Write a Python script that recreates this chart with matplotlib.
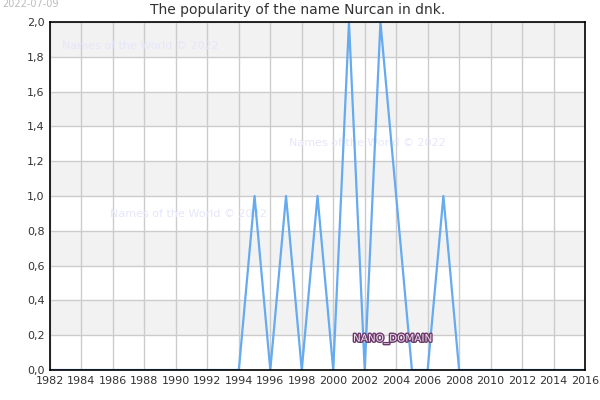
import matplotlib
matplotlib.use("Agg")
import matplotlib.pyplot as plt
import matplotlib.patheffects as pe

years = list(range(1982, 2017))
values = ([0]*12 +                                        # 1982-1993
          [0, 1, 0, 1, 0, 1, 0, 2, 0, 2, 1, 0, 0, 1, 0] +  # 1994-2008
          [0]*8)                                          # 2009-2016
xticks = list(range(1982, 2017, 2))
yticks = [0.0, 0.2, 0.4, 0.6, 0.8, 1.0, 1.2, 1.4, 1.6, 1.8, 2.0]
title = "The popularity of the name Nurcan in dnk."

fig = plt.figure(figsize=(6, 4), dpi=100)
ax = fig.add_axes([50/600, 30/400, 535/600, 348/400])

for i in range(len(yticks) - 1):
    if i % 2 == 1:
        ax.axhspan(yticks[i], yticks[i+1], color='#f2f2f2', zorder=0, lw=0)

ax.plot(years, values, color='#66aaf0', lw=1.6, zorder=3)

ax.set_xlim(1982, 2016)
ax.set_ylim(0, 2.0)
ax.set_xticks(xticks)
ax.set_yticks(yticks)
ax.set_yticklabels([f"{v:.1f}".replace('.', ',') for v in yticks])
ax.grid(True, color='#cccccc', lw=1, zorder=1)
ax.set_axisbelow(True)
ax.tick_params(length=0, labelsize=8, colors='#333333', pad=4)
for s in ax.spines.values():
    s.set_color('black')
    s.set_linewidth(1.2)
    s.set_zorder(4)

fig.text(298/600, 1 - 10/400, title, ha='center', va='center', fontsize=10, color='#333333')
fig.text(2/600, 1 - 4/400, "2022-07-09", ha='left', va='center', fontsize=7, color='#bbbbbb')

wm = dict(fontsize=8, color='#e6e6fa', ha='left', va='center', zorder=2,
          transform=fig.transFigure)
ax.text(62/600, 1 - 46/400, "Names of the World © 2022", **wm)
ax.text(289/600, 1 - 143/400, "Names of the World © 2022", **wm)
ax.text(110/600, 1 - 214/400, "Names of the World © 2022", **wm)

ax.text(353/600, 1 - 339/400, "NANO_DOMAIN", ha='left', va='center', fontsize=7.5,
        color='#f0dcef', zorder=5, transform=fig.transFigure,
        path_effects=[pe.withStroke(linewidth=2, foreground='#6a3a6a')])

fig.savefig("out.png", dpi=100)
